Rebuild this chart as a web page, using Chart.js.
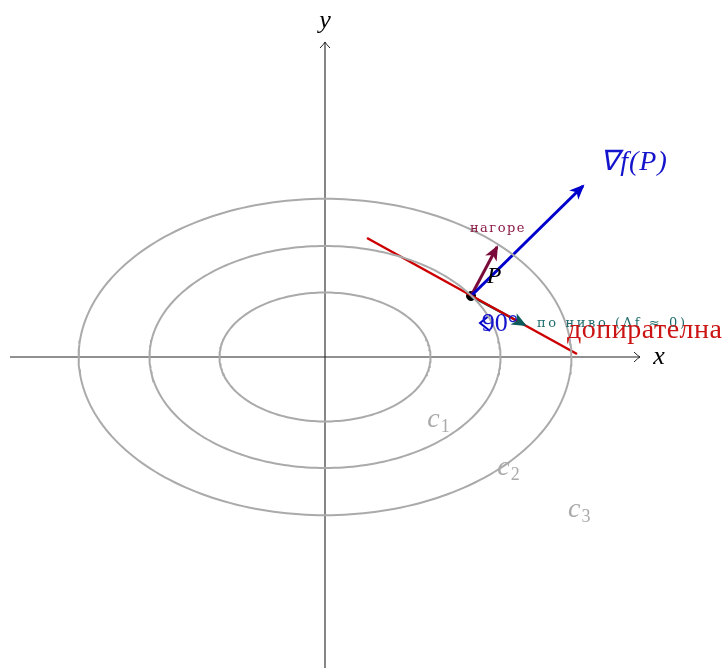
<!DOCTYPE html>
<html>
<head>
<meta charset="utf-8">
<script src="https://cdn.jsdelivr.net/npm/chart.js@4/dist/chart.umd.min.js"></script>
<style>
  body { margin: 0; background: #fff; }
  canvas { display: block; }
</style>
</head>
<body>
<canvas id="c" width="724" height="668"></canvas>
<script>
// level curves: semi-axes (a, b)
const levelNames = ["c", "c", "c"];
const levelSubs = ["1", "2", "3"];
const semiA = [1.507, 2.507, 3.52];
const semiB = [0.921, 1.586, 2.26];

const pointP = [2.086, 0.871];
const gradTip = [3.686, 2.443];
const upTip = [2.457, 1.571];
const levelTip = [2.857, 0.457];
const tangentLine = [[0.6, 1.7], [3.6, 0.043]];
const angleMark = [[2.357, 0.6], [2.214, 0.486], [2.357, 0.371]];

const xAxis = [[-4.5, 0], [4.5, 0]];
const yAxis = [[0, -4.5], [0, 4.5]];

const labels = [
  { text: "x", x: 4.77, y: 0, color: "#000", font: "italic 26px 'Liberation Serif'" },
  { text: "y", x: 0, y: 4.8, color: "#000", font: "italic 26px 'Liberation Serif'" },
  { text: "∇f(P)", x: 4.414, y: 2.78, color: "#1414cc", font: "italic 28px 'Liberation Serif'", spacing: 1 },
  { text: "нагоре", x: 2.471, y: 1.83, color: "#8b1a45", font: "13px 'DejaVu Serif'", spacing: 1.5 },
  { text: "P", x: 2.414, y: 1.15, color: "#000", font: "italic 24px 'Liberation Serif'" },
  { text: "по ниво (Δf ≈ 0)", x: 3.029, y: 0.471, color: "#1f6b6b", font: "13px 'DejaVu Serif'", align: "left", spacing: 2.6 },
  { text: "допирателна", x: 3.457, y: 0.37, color: "#cc1414", font: "28px 'Liberation Serif'", align: "left", spacing: 0.5 },
  { text: "90°", x: 2.5, y: 0.47, color: "#1414cc", font: "26px 'Liberation Serif'" },
  { text: levelNames[0], sub: levelSubs[0], x: 1.55, y: -0.9, color: "#aaaaaa", font: "italic 28px 'Liberation Serif'" },
  { text: levelNames[1], sub: levelSubs[1], x: 2.55, y: -1.586, color: "#aaaaaa", font: "italic 28px 'Liberation Serif'" },
  { text: levelNames[2], sub: levelSubs[2], x: 3.56, y: -2.186, color: "#aaaaaa", font: "italic 28px 'Liberation Serif'" }
];

function ellipsePoints(a, b) {
  const pts = [];
  for (let i = 0; i <= 240; i++) {
    const t = (i / 240) * Math.PI * 2;
    pts.push({ x: a * Math.cos(t), y: b * Math.sin(t) });
  }
  return pts;
}

const toPts = arr => arr.map(p => ({ x: p[0], y: p[1] }));

const datasets = [];
semiA.forEach((a, i) => {
  datasets.push({ data: ellipsePoints(a, semiB[i]), borderColor: "#aaaaaa", borderWidth: 2, pointRadius: 0 });
});
datasets.push({ data: toPts(xAxis), borderColor: "#222", borderWidth: 1.1, pointRadius: 0, axisArrow: true });
datasets.push({ data: toPts(yAxis), borderColor: "#222", borderWidth: 1.1, pointRadius: 0, axisArrow: true });
datasets.push({ data: toPts(tangentLine), borderColor: "#cc0000", borderWidth: 2.5, pointRadius: 0 });
datasets.push({ data: toPts([pointP, gradTip]), borderColor: "#0000cc", borderWidth: 3, pointRadius: 0, arrow: true });
datasets.push({ data: toPts([pointP, upTip]), borderColor: "#7a0a3a", borderWidth: 3, pointRadius: 0, arrow: true });
datasets.push({ data: toPts([pointP, levelTip]), borderColor: "#0a5a5a", borderWidth: 2.5, pointRadius: 0, arrow: true });
datasets.push({ data: toPts(angleMark), borderColor: "#0000cc", borderWidth: 2, pointRadius: 0 });
datasets.push({ data: toPts([pointP]), pointRadius: 4.5, pointBackgroundColor: "#000", pointBorderColor: "#000", showLine: false });

const arrowPlugin = {
  id: "arrows",
  afterDatasetsDraw(chart) {
    const ctx = chart.ctx;
    chart.data.datasets.forEach((ds, i) => {
      if (!ds.arrow && !ds.axisArrow) return;
      const pts = chart.getDatasetMeta(i).data;
      const a = pts[pts.length - 2], b = pts[pts.length - 1];
      const ang = Math.atan2(b.y - a.y, b.x - a.x);
      ctx.save();
      ctx.translate(b.x, b.y);
      ctx.rotate(ang);
      if (ds.arrow) {
        ctx.fillStyle = ds.borderColor;
        ctx.beginPath();
        ctx.moveTo(2, 0);
        ctx.lineTo(-13, -6.5);
        ctx.lineTo(-9, 0);
        ctx.lineTo(-13, 6.5);
        ctx.closePath();
        ctx.fill();
      } else {
        ctx.strokeStyle = ds.borderColor;
        ctx.lineWidth = 1;
        ctx.beginPath();
        ctx.moveTo(-6, -5);
        ctx.quadraticCurveTo(-2, -1, 0, 0);
        ctx.quadraticCurveTo(-2, 1, -6, 5);
        ctx.stroke();
      }
      ctx.restore();
    });
  },
  afterDraw(chart) {
    const ctx = chart.ctx;
    const xs = chart.scales.x, ys = chart.scales.y;
    labels.forEach(l => {
      const px = xs.getPixelForValue(l.x), py = ys.getPixelForValue(l.y);
      ctx.save();
      ctx.font = l.font;
      ctx.fillStyle = l.color;
      ctx.letterSpacing = (l.spacing || 0) + "px";
      ctx.textAlign = l.align || "center";
      ctx.textBaseline = "middle";
      ctx.fillText(l.text, px, py);
      if (l.sub) {
        const w = ctx.measureText(l.text).width;
        ctx.font = "18px 'Liberation Serif'";
        ctx.textAlign = "left";
        ctx.fillText(l.sub, px + w / 2 + 1, py + 7);
      }
      ctx.restore();
    });
  }
};

new Chart(document.getElementById("c"), {
  type: "scatter",
  data: { datasets: datasets.map(d => ({ showLine: true, fill: false, tension: 0, ...d })) },
  options: {
    responsive: false,
    animation: false,
    layout: { padding: 0, autoPadding: false },
    plugins: { legend: { display: false }, tooltip: { enabled: false } },
    scales: {
      x: { type: "linear", min: -325 / 70, max: 399 / 70, display: false },
      y: { type: "linear", min: -311 / 70, max: 357 / 70, display: false }
    }
  },
  plugins: [arrowPlugin]
});
</script>
</body>
</html>
